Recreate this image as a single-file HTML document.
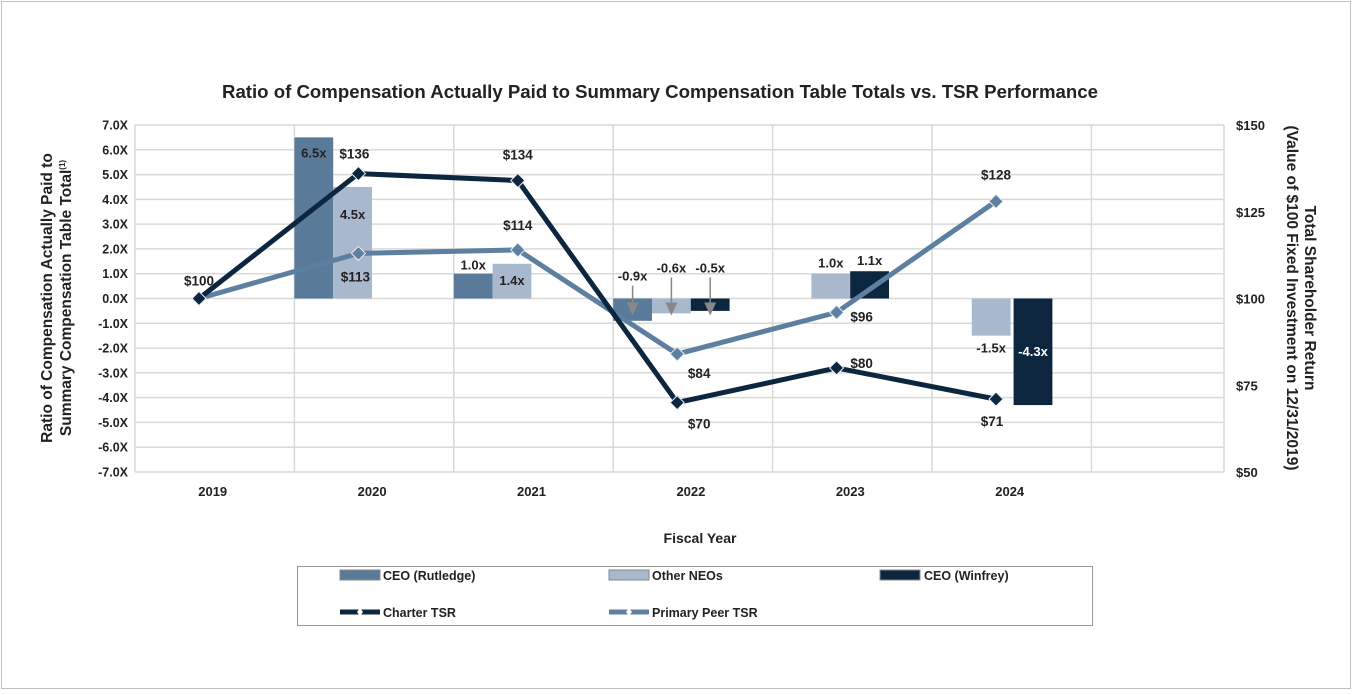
<!DOCTYPE html>
<html><head><meta charset="utf-8"><style>
html,body{margin:0;padding:0;background:#fff;}
svg text{font-family:"Liberation Sans",sans-serif;font-weight:bold;fill:#222;}
</style></head><body>
<svg id="chart" width="1352" height="690" xmlns="http://www.w3.org/2000/svg">
<rect x="1.5" y="1.5" width="1349" height="687" fill="#fff" stroke="#bfbfbf"/>
<text x="660" y="98" text-anchor="middle" font-size="18.5" textLength="876" lengthAdjust="spacingAndGlyphs">Ratio of Compensation Actually Paid to Summary Compensation Table Totals vs. TSR Performance</text>
<g id="grid"></g><g id="bars"></g><g id="lines"></g><g id="labels"></g>
<text transform="translate(52,298) rotate(-90)" text-anchor="middle" font-size="15.5">Ratio of Compensation Actually Paid to</text>
<text transform="translate(71,298) rotate(-90)" text-anchor="middle" font-size="15.5">Summary Compensation Table Total<tspan font-size="8" dy="-6">(1)</tspan></text>
<text transform="translate(1305,298) rotate(90)" text-anchor="middle" font-size="15.5">Total Shareholder Return</text>
<text transform="translate(1287,298) rotate(90)" text-anchor="middle" font-size="15.5" textLength="345" lengthAdjust="spacingAndGlyphs">(Value of $100 Fixed Investment on 12/31/2019)</text>
<text x="700" y="543" text-anchor="middle" font-size="14">Fiscal Year</text>
<g>
<rect x="297.5" y="566.5" width="795" height="59" fill="#fff" stroke="#999"/>
<rect x="340" y="570" width="40" height="10" fill="#5a7a99" stroke="#888"/><text x="383" y="580" font-size="12.5">CEO (Rutledge)</text>
<rect x="609" y="570" width="40" height="10" fill="#a9b9cd" stroke="#888"/><text x="652" y="580" font-size="12.5">Other NEOs</text>
<rect x="880" y="570" width="40" height="10" fill="#0c2640" stroke="#888"/><text x="924" y="580" font-size="12.5">CEO (Winfrey)</text>
<line x1="340" y1="612" x2="380" y2="612" stroke="#0c2640" stroke-width="5"/><path d="M360 608 L363 612 L360 616 L357 612Z" fill="#fff"/><text x="383" y="617" font-size="12.5">Charter TSR</text>
<line x1="609" y1="612" x2="649" y2="612" stroke="#5d7fa0" stroke-width="5"/><path d="M629 608 L632 612 L629 616 L626 612Z" fill="#fff"/><text x="652" y="617" font-size="12.5">Primary Peer TSR</text>
</g>
</svg>
<script>
const years=["2019","2020","2021","2022","2023","2024"];
const rutledge=[null,6.5,1.0,-0.9,null,null];
const neos=[null,4.5,1.4,-0.6,1.0,-1.5];
const winfrey=[null,null,null,-0.5,1.1,-4.3];
const charter=[100,136,134,70,80,71];
const peer=[100,113,114,84,96,128];
const leftTicks=[7,6,5,4,3,2,1,0,-1,-2,-3,-4,-5,-6,-7];
const rightTicks=[150,125,100,75,50];
const NS="http://www.w3.org/2000/svg";
const L=135,R=1224,T=125,B=472,CW=159.4;
const yL=v=>T+(7-v)*(B-T)/14;
const yR=v=>T+(150-v)*(B-T)/100;
const catLeft=i=>L+i*CW;
const catMid=i=>L+CW/2+i*CW-2;
const markX=i=>catLeft(i)+64;
function mk(tag,attrs,parent,text){const e=document.createElementNS(NS,tag);for(const k in attrs)e.setAttribute(k,attrs[k]);if(text!==undefined)e.textContent=text;document.getElementById(parent).appendChild(e);return e;}
leftTicks.forEach(t=>{
 const l=mk('line',{x1:L,x2:R,y1:yL(t),y2:yL(t),stroke:'#d9d9d9','stroke-width':1.5},'grid');
 
 
 const tx=mk('text',{x:128,y:yL(t)+4.5,'text-anchor':'end','font-size':12.5},'grid',t.toFixed(1)+'X');
 
 
});
for(let i=0;i<=7;i++){
 const x=i<7?catLeft(i):R;
 const l=mk('line',{x1:x,x2:x,y1:T,y2:B,stroke:'#d9d9d9','stroke-width':1.5},'grid');
 
 
}
rightTicks.forEach(t=>{
 const tx=mk('text',{x:1236,y:yR(t)+5,'font-size':13},'grid','$'+t);
 
 
});
years.forEach((y,i)=>{
 const tx=mk('text',{x:catMid(i),y:496,'text-anchor':'middle','font-size':13},'grid',y);
 
 
});
const SW=38.8;
const series=[[rutledge,'#5a7a99','bar-ceo-rutledge'],[neos,'#a9b9cd','bar-other-neos'],[winfrey,'#0c2640','bar-ceo-winfrey']];
series.forEach(([arr,col,name],s)=>{
 arr.forEach((v,i)=>{
  if(v===null)return;
  const x=catLeft(i)+s*SW+(i===5&&s===2?4:0)+(i===5&&s===1?1:0);
  const y0=yL(0),y1=yL(v);
  const r=mk('rect',{x:x,y:Math.min(y0,y1),width:SW,height:Math.abs(y1-y0),fill:col},'bars');
  
  
  let lx=x+SW/2,ly,fill='#222';
  if(i===1){ly=s===0?y1+20:y1+32;}
  else if(i===2){ly=s===0?y1-4:y1+21;}
  else if(i===3){ly=s===0?yL(0)-18:yL(0)-26;}
  else if(v>=0){ly=y1-6;}
  else if(s===2){ly=(y0+y1)/2+4;fill='#fff';}
  else {ly=y1+17;}
  const t=mk('text',{x:lx,y:ly,'text-anchor':'middle','font-size':13},'labels',v.toFixed(1)+'x');
  t.setAttribute('style','fill:'+fill);
  
  
  if(i===3){
   const ax=x+SW/2;
   mk('line',{x1:ax,x2:ax,y1:ly+5,y2:yL(0)+13,stroke:'#888','stroke-width':1.5},'labels');
   mk('path',{d:`M${ax-6} ${yL(0)+4} L${ax+6} ${yL(0)+4} L${ax} ${yL(0)+17}Z`,fill:'#888'},'labels');
  }
 });
});
[[peer,'#5d7fa0','line-primary-peer-tsr'],[charter,'#0c2640','line-charter-tsr']].forEach(([arr,col,name])=>{
 const pts=arr.map((v,i)=>markX(i)+','+yR(v)).join(' ');
 const pl=mk('polyline',{points:pts,fill:'none',stroke:col,'stroke-width':5,'stroke-linejoin':'round'},'lines');
 
 
 arr.forEach((v,i)=>{
  const x=markX(i),y=yR(v);
  const m=mk('path',{d:`M${x} ${y-7} L${x+7} ${y} L${x} ${y+7} L${x-7} ${y}Z`,fill:col,stroke:'#e8edf3','stroke-width':1},'lines');
  
  
 });
});
// label offsets relative to marker (dx, dy): index per year
const chDX=[0,-4,0,22,25,-4], chDY=[-13,-15,-21,26,0,27];
const peDX=[null,-3,0,22,25,0], peDY=[null,28,-20,24,9,-22];
function tsrLabel(arr,i,dx,dy){
 if(dx===null)return;
 const t=mk('text',{x:markX(i)+dx,y:yR(arr[i])+dy,'text-anchor':'middle','font-size':13.5},'labels','$'+arr[i]);
 
 
}
for(let i=0;i<years.length;i++){tsrLabel(charter,i,chDX[i],chDY[i]);tsrLabel(peer,i,peDX[i],peDY[i]);}
</script>
</body></html>
